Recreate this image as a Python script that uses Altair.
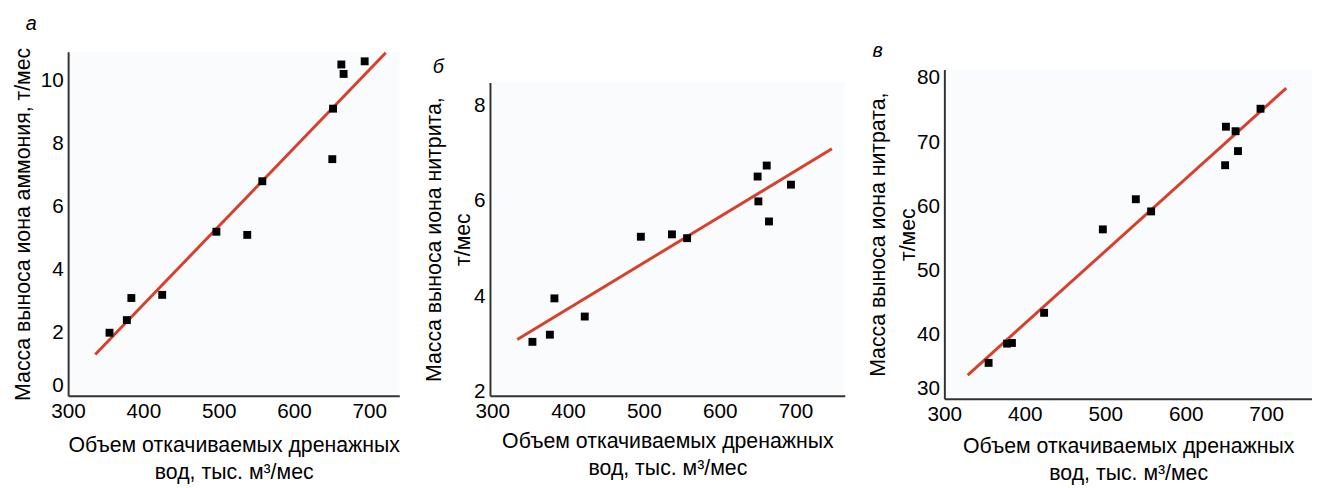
import altair as alt
import pandas as pd

# ---- data ----
a_x = [355, 378, 384, 425, 497, 538, 558, 651, 652, 663, 666, 694]
a_y = [2.0, 2.4, 3.1, 3.2, 5.2, 5.1, 6.8, 7.5, 9.1, 10.5, 10.2, 10.6]
a_line_x = [336, 722]
a_line_y = [1.31, 10.87]

b_x = [353, 376, 382, 422, 496, 537, 557, 650, 651, 662, 665, 694]
b_y = [3.05, 3.2, 3.96, 3.58, 5.25, 5.30, 5.22, 6.51, 5.99, 6.74, 5.57, 6.34]
b_line_x = [333, 748]
b_line_y = [3.10, 7.09]

c_x = [355, 378, 384, 424, 497, 538, 557, 649, 650, 662, 665, 693]
c_y = [35.6, 38.6, 38.7, 43.4, 56.4, 61.1, 59.2, 66.4, 72.4, 71.7, 68.6, 75.2]
c_line_x = [329, 725]
c_line_y = [33.7, 78.4]

x_ticks = [300, 400, 500, 600, 700]
x_title = ["Объем откачиваемых дренажных", "вод, тыс. м³/мес"]

FONT = "Liberation Sans"
RED = "#d6402d"
FS = 21
TFS = 21.6
BG = "#fafbfc"


def panel(label, px, py, lx, ly, xdom, ydom, yticks, ytitle, w, h,
          space, t_off, t_dx, t_dy, y_tpad, x_tpad):
    pts = pd.DataFrame({"x": px, "y": py})
    ln = pd.DataFrame({"x": lx, "y": ly})
    xs = alt.Scale(domain=xdom, nice=False, zero=False)
    ys = alt.Scale(domain=ydom, nice=False, zero=False)
    xax = alt.Axis(values=x_ticks, title=x_title, labelFlush=False,
                   labelOverlap=False, titlePadding=x_tpad, titleLineHeight=28)
    yax = alt.Axis(values=yticks, title=ytitle, labelFlush=True,
                   labelOverlap=False, titlePadding=y_tpad, titleLineHeight=30)
    line = alt.Chart(ln).mark_line(color=RED, strokeWidth=3).encode(
        x=alt.X("x:Q", scale=xs, axis=xax),
        y=alt.Y("y:Q", scale=ys, axis=yax),
    )
    points = alt.Chart(pts).mark_square(size=64, color="black", opacity=1).encode(
        x=alt.X("x:Q", scale=xs),
        y=alt.Y("y:Q", scale=ys),
    )
    layered = alt.layer(line, points).properties(
        width=w,
        height=h,
        view=alt.ViewBackground(fill=BG),
        title=alt.TitleParams(
            text=label, anchor="start", frame="group", dx=t_dx, dy=t_dy,
            offset=t_off, fontSize=20, fontStyle="italic",
            fontWeight="normal", font=FONT, color="black", baseline="top",
        ),
    )
    spacer = alt.Chart(pd.DataFrame({"v": [0]})).mark_point(opacity=0, size=1).encode(
        x=alt.value(0), y=alt.value(0)
    ).properties(width=1, height=space, view=alt.ViewBackground(fill="transparent"))
    return alt.vconcat(spacer, layered, spacing=0)


pa = panel("а", a_x, a_y, a_line_x, a_line_y, [300, 740], [0, 10.9],
           [0, 2, 4, 6, 8, 10], "Масса выноса иона аммония, т/мес",
           336, 349, 1, 7, -43, -6, 6, 13)
pb = panel("б", b_x, b_y, b_line_x, b_line_y, [297, 765], [1.92, 8.48],
           [2, 4, 6, 8], ["Масса выноса иона нитрита,", "т/мес"],
           360, 318, 45, 5.5, -58, 0, -1, 9)
pc = panel("в", c_x, c_y, c_line_x, c_line_y, [300, 757], [30, 81.3],
           [30, 40, 50, 60, 70, 80], ["Масса выноса иона нитрата,", "т/мес"],
           373, 334, 29, 5.8, -73, 0, -3, 11)

chart = (
    alt.hconcat(pa, pb, pc, spacing=23)
    .properties(padding={"left": 4, "top": 0, "right": 0, "bottom": 0})
    .configure_view(stroke=None)
    .configure_axis(
        domainColor="#333333", domainWidth=2, ticks=False, grid=False,
        labelFont=FONT, labelFontSize=FS, labelColor="black", labelPadding=5,
        titleFont=FONT, titleFontSize=TFS, titleFontWeight="normal",
        titleColor="black",
    )
    .configure_title(font=FONT)
)

chart.save("out.html", embed_options={"renderer": "svg", "actions": False})
